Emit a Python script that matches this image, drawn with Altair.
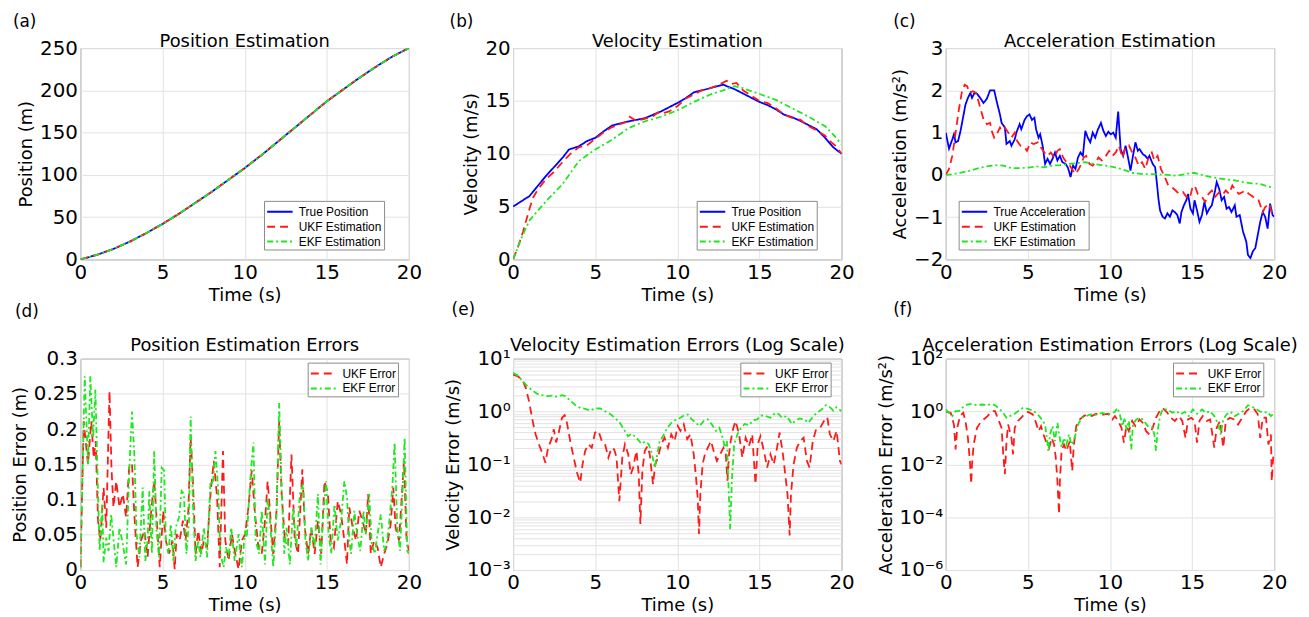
import altair as alt
import pandas as pd

FONT = "DejaVu Sans"
LEGEND_FONT = "Liberation Sans"
BLUE = "#0000ff"
RED = "#ff1a1a"
GREEN = "#1ee81e"

X_TICKS = [0, 5, 10, 15, 20]

# ---------------- (a) Position ----------------
POS_T = [0, 1, 2, 3, 4, 5, 6, 7, 8, 9, 10, 11, 12, 13, 14, 15, 16, 17, 18, 19, 20]
POS_TRUE = [0, 5.4, 12.3, 21, 31, 42, 54, 67, 80, 94, 108, 123, 139, 155, 171, 187, 201, 215, 228, 240, 250]
POS_UKF = [0, 5.4, 12.3, 21, 31, 42, 54, 67, 80, 94, 108, 123, 139, 155, 171, 187, 201, 215, 228, 240, 250]
POS_EKF = [0, 5.3, 12.2, 21, 31, 42, 54, 67, 80, 94, 108, 123, 139, 155, 171, 187, 201, 215, 228, 240, 250]

# ---------------- (b) Velocity ----------------
VEL_TRUE_T = [0, 1, 2, 3, 3.4, 4, 4.5, 5, 5.5, 6, 6.6, 7, 8, 9, 10, 10.5, 11, 11.5, 12, 12.8, 13,
              13.5, 14, 14.5, 15, 15.5, 16, 16.5, 17, 17.5, 18, 18.5, 19, 19.5, 20]
VEL_TRUE = [5, 6.0, 7.9, 9.6, 10.4, 10.7, 11.2, 11.5, 12.1, 12.65, 12.9, 13.05, 13.35, 14.0, 14.8, 15.25,
            15.8, 16.0, 16.2, 16.55, 16.4, 16.1, 15.7, 15.3, 14.9, 14.6, 14.2, 13.7, 13.45, 13.1, 12.7,
            12.3, 11.5, 10.6, 10.0]
VEL_UKF_T = [0, 0.3, 0.6, 1.0, 1.2, 1.5, 2.0, 2.5, 3.0, 3.5, 4.0, 4.5, 5.0, 5.5, 6.0, 6.5, 6.9, 7.1, 7.5,
             8.0, 8.5, 8.8, 9.0, 9.5, 10.0, 10.5, 11.0, 11.5, 12.0, 12.5, 13.0, 13.3, 13.6, 14.0, 14.5,
             15.0, 15.5, 16.0, 16.5, 17.0, 17.5, 18.0, 18.5, 19.0, 19.3, 19.6, 20.0]
VEL_UKF = [0, 1.2, 2.6, 4.8, 5.8, 6.6, 7.6, 8.3, 9.2, 10.0, 10.6, 10.8, 11.4, 12.0, 12.5, 12.8, 13.0, 13.5,
           13.1, 13.3, 13.5, 13.9, 13.8, 14.0, 14.5, 15.2, 15.6, 16.0, 16.2, 16.5, 16.9, 16.6, 16.7, 16.0,
           15.5, 15.0, 14.8, 14.3, 13.7, 13.4, 13.2, 12.6, 12.2, 11.7, 11.2, 10.8, 10.0]
VEL_EKF_T = [0, 0.5, 1, 2, 3, 4, 5, 6, 7, 8, 9, 10, 11, 12, 13, 13.5, 14, 15, 16, 17, 18, 19, 19.5, 20]
VEL_EKF = [0, 2.0, 3.7, 5.5, 7.1, 9.3, 10.4, 11.3, 12.4, 13.05, 13.5, 14.1, 14.9, 15.6, 16.1, 16.4, 16.2,
           15.65, 15.1, 14.3, 13.5, 12.6, 11.8, 10.9]

# ---------------- (c) Acceleration ----------------
ACC_TRUE_T = [0, 0.2, 0.4, 0.5, 0.6, 0.75, 0.9, 1.07, 1.2, 1.35, 1.5, 1.6, 1.75, 1.9, 2.1, 2.3, 2.5, 2.7,
              2.95, 3.1, 3.3, 3.4, 3.6, 3.7, 3.9, 4.0, 4.2, 4.3, 4.5, 4.6, 4.8, 4.95, 5.1, 5.25, 5.4, 5.5,
              5.65, 5.75, 5.9, 6.05, 6.2, 6.35, 6.5, 6.65, 6.8, 6.95, 7.1, 7.3, 7.45, 7.6, 7.75, 7.9, 8.05,
              8.2, 8.35, 8.5, 8.65, 8.8, 8.95, 9.1, 9.25, 9.45, 9.6, 9.75, 9.9, 10.05, 10.2, 10.35, 10.5,
              10.55, 10.65, 10.8, 10.95, 11.1, 11.25, 11.4, 11.55, 11.7, 11.8, 12.0, 12.15, 12.3, 12.4,
              12.6, 12.75, 12.85, 12.95, 13.05, 13.2, 13.35, 13.5, 13.65, 13.8, 13.95, 14.1, 14.25, 14.35,
              14.5, 14.65, 14.75, 14.9, 15.05, 15.15, 15.3, 15.45, 15.6, 15.75, 15.9, 16.05, 16.2, 16.4,
              16.5, 16.65, 16.8, 16.95, 17.1, 17.25, 17.4, 17.6, 17.7, 17.9, 18.1, 18.3, 18.4, 18.55, 18.7,
              18.85, 19.0, 19.15, 19.3, 19.45, 19.6, 19.75, 19.9, 20.0]
ACC_TRUE = [1.0, 0.62, 0.84, 0.96, 0.77, 0.8, 1.04, 1.39, 1.66, 1.82, 1.94, 1.82, 1.94, 1.92, 1.82, 1.7,
            1.8, 2.0, 2.0, 1.74, 1.43, 1.23, 1.12, 0.73, 0.8, 0.69, 0.84, 1.0, 1.2, 1.08, 1.3, 1.39, 1.43,
            1.3, 1.35, 1.08, 0.88, 0.96, 0.69, 0.26, 0.38, 0.26, 0.38, 0.53, 0.34, 0.45, 0.3, 0.26, 0.16,
            -0.05, 0.22, 0.14, 0.41, 0.53, 0.45, 1.04, 0.88, 0.77, 1.0, 0.88, 1.06, 1.23, 1.04, 0.92, 1.02,
            0.96, 1.0, 0.88, 1.5, 1.2, 0.61, 0.45, 0.69, 0.41, 0.1, 0.45, 0.77, 0.57, 0.61, 0.49, 0.45,
            0.38, 0.45, 0.26, 0.18, -0.17, -0.56, -0.84, -0.99, -1.03, -0.91, -0.99, -0.84, -0.88, -0.95,
            -1.15, -0.88, -0.72, -0.6, -0.45, -0.8, -0.91, -0.6, -0.84, -1.11, -0.95, -0.64, -0.91, -0.8,
            -0.72, -0.37, -0.17, -0.33, -0.6, -0.52, -0.8, -0.76, -0.88, -0.72, -0.99, -0.95, -1.34, -1.58,
            -1.89, -1.97, -1.81, -1.73, -1.42, -1.11, -0.88, -0.99, -1.27, -0.68, -0.95, -0.99]
ACC_UKF_T = [0, 0.2, 0.4, 0.6, 0.8, 0.97, 1.15, 1.3, 1.45, 1.65, 1.85, 2.1, 2.3, 2.5, 2.7, 2.8, 2.95, 3.1,
             3.3, 3.4, 3.6, 3.8, 4.0, 4.2, 4.35, 4.55, 4.8, 4.95, 5.15, 5.35, 5.6, 5.8, 6.0, 6.2, 6.4, 6.6,
             6.8, 6.95, 7.15, 7.35, 7.55, 7.75, 7.9, 8.1, 8.25, 8.4, 8.55, 8.75, 8.95, 9.15, 9.3, 9.5, 9.75,
             9.95, 10.15, 10.35, 10.55, 10.75, 10.95, 11.15, 11.35, 11.55, 11.75, 11.95, 12.15, 12.35,
             12.55, 12.7, 12.9, 13.1, 13.3, 13.55, 13.75, 14.0, 14.2, 14.45, 14.65, 14.85, 15.0, 15.15,
             15.35, 15.6, 15.8, 16.0, 16.2, 16.4, 16.65, 16.85, 17.05, 17.25, 17.45, 17.65, 17.85, 18.05,
             18.25, 18.45, 18.65, 18.85, 19.05, 19.3, 19.45, 19.7, 19.85, 20.0]
ACC_UKF = [0, 0.14, 0.45, 1.0, 1.55, 1.94, 2.13, 2.1, 1.94, 1.98, 1.94, 1.59, 1.31, 1.2, 1.23, 1.04, 0.88,
           0.96, 1.12, 1.06, 1.12, 1.0, 0.88, 1.0, 0.8, 0.69, 0.65, 0.57, 0.77, 0.73, 0.77, 0.65, 0.53,
           0.45, 0.53, 0.41, 0.57, 0.61, 0.41, 0.3, 0.22, 0.1, 0.02, 0.14, 0.26, 0.41, 0.45, 0.26, 0.22,
           0.3, 0.41, 0.34, 0.45, 0.57, 0.45, 0.53, 0.69, 0.41, 0.65, 0.7, 0.53, 0.41, 0.22, 0.3, 0.14,
           0.41, 0.53, 0.34, 0.45, 0.14, -0.02, -0.25, -0.29, -0.37, -0.45, -0.41, -0.52, -0.56, -0.33,
           -0.25, -0.45, -0.52, -0.64, -0.45, -0.37, -0.52, -0.41, -0.48, -0.37, -0.45, -0.25, -0.37,
           -0.45, -0.41, -0.37, -0.45, -0.5, -0.56, -0.6, -0.88, -0.76, -0.68, -0.91, -0.84]
ACC_EKF_T = [0, 0.5, 1.0, 1.5, 2.0, 2.5, 3.0, 3.5, 4.0, 4.5, 5.0, 5.5, 6.0, 6.5, 7.0, 7.5, 8.0, 8.5, 9.0,
             9.5, 10.0, 10.5, 11.0, 11.3, 11.6, 12.0, 12.5, 13.0, 13.5, 14.1, 14.6, 15.1, 15.6, 16.1,
             16.6, 17.1, 17.6, 18.1, 18.6, 19.1, 19.6, 20.0]
ACC_EKF = [0.0, 0.02, 0.06, 0.1, 0.16, 0.2, 0.23, 0.22, 0.16, 0.16, 0.17, 0.2, 0.18, 0.22, 0.23, 0.26,
           0.28, 0.3, 0.26, 0.23, 0.2, 0.16, 0.1, 0.05, 0.04, 0.02, 0.02, 0.01, 0.0, -0.02, 0.02, 0.05,
           0.0, -0.05, -0.08, -0.11, -0.13, -0.17, -0.2, -0.21, -0.27, -0.31]

# ---------------- (d) Position errors ----------------
PERR_EKF_T = [0, 0.26, 0.46, 0.6, 0.77, 0.91, 1.07, 1.17, 1.33, 1.41, 1.57, 1.71, 1.87, 2.18, 2.38, 2.58,
              2.78, 2.98, 3.14, 3.28, 3.42, 3.59, 3.79, 3.95, 4.09, 4.19, 4.35, 4.49, 4.63, 4.79, 4.95,
              5.1, 5.2, 5.36, 5.5, 5.66, 5.8, 6.0, 6.16, 6.3, 6.45, 6.61, 6.71, 6.85, 7.01, 7.17, 7.31,
              7.51, 7.71, 7.92, 8.06, 8.22, 8.38, 8.52, 8.72, 8.86, 9.02, 9.18, 9.39, 9.63, 9.83, 10.03,
              10.13, 10.33, 10.53, 10.67, 10.88, 11.04, 11.24, 11.4, 11.54, 11.74, 11.94, 12.1, 12.25,
              12.41, 12.55, 12.75, 12.95, 13.15, 13.36, 13.56, 13.7, 13.86, 14.06, 14.26, 14.46, 14.62,
              14.76, 14.96, 15.11, 15.27, 15.47, 15.67, 15.87, 16.07, 16.23, 16.37, 16.48, 16.68, 16.84,
              17.04, 17.24, 17.38, 17.58, 17.74, 17.93, 18.09, 18.29, 18.49, 18.65, 18.79, 18.99, 19.13,
              19.29, 19.46, 19.6, 19.74, 19.9, 20.0]
PERR_EKF = [0.004, 0.275, 0.15, 0.275, 0.188, 0.256, 0.108, 0.027, 0.093, 0.011, 0.046, 0.027, 0.079,
            0.004, 0.06, 0.037, 0.008, 0.145, 0.225, 0.164, 0.051, 0.018, 0.117, 0.013, 0.042, 0.112,
            0.023, 0.169, 0.056, 0.018, 0.145, 0.141, 0.042, 0.023, 0.065, 0.013, 0.06, 0.075, 0.112,
            0.108, 0.023, 0.07, 0.218, 0.093, 0.013, 0.042, 0.018, 0.06, 0.018, 0.126, 0.122, 0.169,
            0.117, 0.023, 0.004, 0.032, 0.018, 0.06, 0.013, 0.051, 0.004, 0.056, 0.046, 0.126, 0.181,
            0.042, 0.023, 0.084, 0.008, 0.103, 0.07, 0.004, 0.079, 0.237, 0.117, 0.023, 0.06, 0.008,
            0.089, 0.032, 0.108, 0.122, 0.042, 0.013, 0.06, 0.032, 0.108, 0.008, 0.07, 0.126, 0.051,
            0.023, 0.093, 0.042, 0.07, 0.126, 0.103, 0.042, 0.023, 0.084, 0.051, 0.027, 0.084, 0.051,
            0.108, 0.037, 0.023, 0.051, 0.079, 0.027, 0.037, 0.065, 0.117, 0.181, 0.06, 0.027, 0.103,
            0.188, 0.027, 0.023]
PERR_UKF_T = [0, 0.2, 0.46, 0.66, 0.81, 0.93, 1.07, 1.21, 1.41, 1.57, 1.77, 1.89, 2.01, 2.18, 2.38, 2.58,
              2.78, 2.98, 3.14, 3.28, 3.48, 3.69, 3.89, 4.09, 4.29, 4.49, 4.65, 4.83, 5.04, 5.2, 5.4, 5.6,
              5.74, 5.86, 6.04, 6.24, 6.4, 6.57, 6.71, 6.85, 7.01, 7.17, 7.37, 7.51, 7.71, 7.92, 8.12,
              8.32, 8.48, 8.68, 8.82, 9.02, 9.22, 9.43, 9.63, 9.83, 10.03, 10.23, 10.43, 10.63, 10.84,
              11.04, 11.24, 11.4, 11.54, 11.74, 11.94, 12.1, 12.25, 12.45, 12.65, 12.85, 13.05, 13.25,
              13.51, 13.66, 13.86, 14.06, 14.26, 14.46, 14.66, 14.86, 15.07, 15.23, 15.43, 15.67, 15.87,
              16.07, 16.23, 16.37, 16.58, 16.78, 16.98, 17.18, 17.38, 17.52, 17.68, 17.89, 18.09, 18.29,
              18.49, 18.69, 18.89, 19.05, 19.19, 19.4, 19.6, 19.7, 19.86, 20.0]
PERR_UKF = [0.004, 0.211, 0.15, 0.211, 0.159, 0.183, 0.07, 0.042, 0.117, 0.06, 0.254, 0.145, 0.089, 0.126,
            0.089, 0.108, 0.075, 0.15, 0.15, 0.079, 0.004, 0.042, 0.056, 0.018, 0.079, 0.126, 0.07, 0.004,
            0.084, 0.042, 0.023, 0.042, 0.001, 0.051, 0.042, 0.07, 0.042, 0.084, 0.188, 0.126, 0.023,
            0.056, 0.023, 0.042, 0.032, 0.108, 0.155, 0.103, 0.004, 0.169, 0.042, 0.013, 0.051, 0.023,
            0.001, 0.042, 0.051, 0.089, 0.141, 0.079, 0.032, 0.023, 0.07, 0.126, 0.084, 0.023, 0.084,
            0.211, 0.108, 0.042, 0.037, 0.164, 0.042, 0.023, 0.143, 0.06, 0.023, 0.06, 0.023, 0.07, 0.023,
            0.126, 0.108, 0.042, 0.032, 0.098, 0.079, 0.042, 0.008, 0.089, 0.06, 0.042, 0.084, 0.07, 0.051,
            0.108, 0.023, 0.042, 0.032, 0.004, 0.023, 0.037, 0.065, 0.117, 0.06, 0.042, 0.117, 0.155, 0.042,
            0.027]

# ---------------- (e) Velocity errors (log) ----------------
VERR_EKF_T = [0, 0.26, 0.56, 0.87, 1.17, 1.47, 1.77, 2.07, 2.38, 2.68, 2.98, 3.18, 3.48, 3.79, 4.09, 4.39,
              4.69, 4.99, 5.3, 5.6, 5.9, 6.2, 6.5, 6.8, 7.0, 7.21, 7.51, 7.81, 8.05, 8.26, 8.46, 8.62,
              8.78, 8.92, 9.12, 9.38, 9.63, 9.93, 10.19, 10.44, 10.64, 10.88, 11.14, 11.35, 11.61, 11.85,
              12.1, 12.35, 12.56, 12.76, 12.9, 13.02, 13.12, 13.22, 13.32, 13.46, 13.66, 13.86, 14.1,
              14.36, 14.62, 14.86, 15.11, 15.37, 15.67, 15.97, 16.17, 16.37, 16.67, 16.97, 17.18, 17.44,
              17.72, 17.98, 18.24, 18.49, 18.79, 19.05, 19.29, 19.5, 19.7, 20.0]
VERR_EKF = [5.4, 4.85, 3.85, 3.0, 2.5, 2.15, 2.03, 1.95, 2.0, 1.89, 2.03, 1.95, 1.61, 1.32, 1.17, 1.12,
            1.04, 1.14, 1.14, 1.01, 0.9, 0.76, 0.61, 0.43, 0.34, 0.38, 0.32, 0.245, 0.27, 0.24, 0.155,
            0.087, 0.155, 0.27, 0.34, 0.48, 0.61, 0.71, 0.76, 0.85, 0.88, 0.71, 0.61, 0.53, 0.66, 0.71,
            0.57, 0.43, 0.49, 0.32, 0.206, 0.275, 0.036, 0.0059, 0.049, 0.24, 0.37, 0.48, 0.58, 0.55,
            0.68, 0.71, 0.84, 0.82, 0.76, 0.94, 0.9, 0.76, 0.82, 0.58, 0.66, 0.74, 0.71, 0.61, 0.78,
            0.94, 1.09, 1.32, 1.21, 1.04, 1.21, 1.01]
VERR_UKF_T = [0, 0.3, 0.56, 0.77, 0.97, 1.17, 1.37, 1.57, 1.77, 1.97, 2.13, 2.34, 2.48, 2.62, 2.78, 2.98,
              3.14, 3.28, 3.48, 3.69, 3.89, 4.09, 4.23, 4.39, 4.59, 4.79, 4.99, 5.2, 5.4, 5.6, 5.8, 6.0,
              6.16, 6.3, 6.47, 6.65, 6.81, 7.01, 7.17, 7.31, 7.51, 7.65, 7.75, 7.87, 8.02, 8.18, 8.32,
              8.52, 8.66, 8.82, 9.02, 9.22, 9.43, 9.63, 9.83, 10.03, 10.19, 10.39, 10.6, 10.8, 11.0,
              11.14, 11.24, 11.32, 11.4, 11.54, 11.68, 11.85, 12.05, 12.21, 12.41, 12.61, 12.81, 12.95,
              13.05, 13.15, 13.25, 13.41, 13.55, 13.76, 13.96, 14.16, 14.36, 14.56, 14.76, 14.9, 15.06,
              15.27, 15.47, 15.67, 15.87, 16.07, 16.23, 16.43, 16.57, 16.71, 16.84, 16.92, 17.08, 17.28,
              17.48, 17.69, 17.89, 18.05, 18.25, 18.45, 18.69, 18.93, 19.13, 19.29, 19.5, 19.7, 19.9, 20.0]
VERR_UKF = [5.0, 4.6, 4.0, 2.8, 1.57, 0.71, 0.37, 0.24, 0.166, 0.107, 0.206, 0.3, 0.46, 0.26, 0.4, 0.76,
            0.85, 0.61, 0.275, 0.134, 0.07, 0.045, 0.1, 0.18, 0.24, 0.206, 0.4, 0.43, 0.275, 0.24, 0.134,
            0.206, 0.19, 0.134, 0.02, 0.134, 0.24, 0.155, 0.065, 0.087, 0.18, 0.065, 0.0074, 0.075, 0.18,
            0.22, 0.155, 0.042, 0.1, 0.134, 0.24, 0.32, 0.206, 0.37, 0.275, 0.53, 0.43, 0.57, 0.3, 0.37,
            0.155, 0.056, 0.023, 0.0048, 0.027, 0.1, 0.155, 0.206, 0.275, 0.18, 0.116, 0.155, 0.206,
            0.155, 0.049, 0.155, 0.275, 0.49, 0.66, 0.37, 0.134, 0.32, 0.22, 0.37, 0.042, 0.24, 0.34,
            0.18, 0.087, 0.155, 0.1, 0.206, 0.4, 0.155, 0.065, 0.027, 0.0045, 0.027, 0.1, 0.206, 0.275,
            0.32, 0.116, 0.087, 0.275, 0.46, 0.49, 0.66, 0.78, 0.37, 0.275, 0.43, 0.116, 0.1]

# ---------------- (f) Acceleration errors (log) ----------------
AERR_EKF_T = [0, 0.2, 0.4, 0.6, 0.8, 1.0, 1.3, 1.6, 1.9, 2.2, 2.5, 2.8, 3.0, 3.2, 3.5, 3.7, 3.9, 4.2, 4.4,
              4.7, 5.0, 5.3, 5.6, 5.85, 6.05, 6.15, 6.25, 6.35, 6.5, 6.65, 6.8, 6.9, 7.05, 7.2, 7.35, 7.5,
              7.65, 7.8, 7.95, 8.1, 8.3, 8.55, 8.8, 9.05, 9.3, 9.55, 9.8, 10.05, 10.3, 10.45, 10.6, 10.75,
              10.9, 11.0, 11.15, 11.3, 11.4, 11.6, 11.8, 12.0, 12.3, 12.55, 12.7, 12.8, 12.9, 13.05, 13.2,
              13.5, 13.8, 14.05, 14.3, 14.55, 14.8, 15.05, 15.3, 15.6, 15.85, 16.1, 16.35, 16.6, 16.75,
              16.9, 17.1, 17.35, 17.6, 17.85, 18.1, 18.4, 18.6, 18.85, 19.1, 19.35, 19.6, 19.8, 20.0]
AERR_EKF = [1.19, 0.89, 0.67, 1.03, 1.03, 1.37, 1.84, 1.95, 1.73, 1.84, 1.73, 1.95, 1.73, 1.37, 0.89,
            0.58, 0.67, 0.82, 1.03, 1.37, 1.26, 1.09, 0.78, 0.5, 0.32, 0.1, 0.032, 0.135, 0.28, 0.076,
            0.37, 0.135, 0.043, 0.1, 0.056, 0.135, 0.056, 0.076, 0.18, 0.37, 0.58, 0.67, 0.78, 0.72,
            0.82, 0.89, 0.78, 0.82, 0.97, 1.37, 0.78, 0.28, 0.58, 0.21, 0.44, 0.037, 0.32, 0.5, 0.58,
            0.5, 0.28, 0.26, 0.135, 0.032, 0.18, 0.67, 1.19, 1.19, 0.89, 1.03, 0.78, 0.97, 0.67, 1.19,
            0.82, 1.19, 0.89, 1.03, 0.67, 0.32, 0.135, 0.5, 0.78, 0.97, 0.67, 0.82, 1.03, 1.73, 1.58,
            1.3, 1.03, 0.89, 0.97, 0.67, 0.89]
AERR_UKF_T = [0, 0.3, 0.5, 0.6, 0.7, 0.87, 1.07, 1.2, 1.35, 1.47, 1.55, 1.6, 1.7, 1.9, 2.1, 2.3, 2.55, 2.8,
              3.0, 3.2, 3.4, 3.5, 3.6, 3.7, 3.8, 4.0, 4.1, 4.2, 4.4, 4.6, 4.85, 5.0, 5.3, 5.5, 5.65, 5.8,
              5.95, 6.1, 6.3, 6.45, 6.6, 6.7, 6.8, 6.9, 6.95, 7.05, 7.2, 7.35, 7.55, 7.7, 7.8, 7.95, 8.15,
              8.4, 8.65, 8.9, 9.15, 9.4, 9.65, 9.9, 10.15, 10.3, 10.5, 10.7, 10.85, 11.0, 11.15, 11.35,
              11.55, 11.8, 12.0, 12.2, 12.4, 12.6, 12.8, 13.0, 13.2, 13.5, 13.7, 13.95, 14.2, 14.4, 14.6,
              14.75, 14.95, 15.15, 15.3, 15.45, 15.65, 15.9, 16.1, 16.35, 16.5, 16.7, 16.9, 17.05, 17.3,
              17.55, 17.8, 18.05, 18.3, 18.55, 18.8, 19.0, 19.15, 19.3, 19.5, 19.65, 19.8, 19.85, 19.95]
AERR_UKF = [1.0, 0.89, 0.32, 0.037, 0.24, 0.67, 0.89, 0.44, 0.1, 0.013, 0.0018, 0.01, 0.056, 0.24, 0.37,
            0.5, 0.67, 1.03, 1.03, 0.5, 0.24, 0.024, 0.0042, 0.076, 0.32, 0.1, 0.024, 0.24, 0.44, 0.58,
            0.89, 0.97, 0.78, 0.37, 0.18, 0.28, 0.135, 0.076, 0.043, 0.1, 0.056, 0.018, 0.0023, 0.00013,
            0.0023, 0.032, 0.056, 0.032, 0.076, 0.0056, 0.056, 0.28, 0.5, 0.67, 0.78, 0.67, 0.82, 0.72,
            0.78, 0.82, 0.5, 0.67, 0.44, 0.24, 0.066, 0.28, 0.18, 0.44, 0.28, 0.5, 0.37, 0.18, 0.135,
            0.24, 0.58, 0.97, 1.37, 0.89, 0.58, 0.44, 0.67, 0.44, 0.1, 0.5, 0.58, 0.44, 0.066, 0.44, 0.67,
            0.44, 0.5, 0.043, 0.24, 0.44, 0.043, 0.44, 0.58, 0.5, 0.32, 0.58, 1.03, 1.37, 1.19, 0.78, 0.1,
            0.58, 0.58, 0.056, 0.135, 0.0023, 0.024]

SOLID = [1, 0]
DASH = [8, 5]
DASHDOT = [6, 3, 2, 3]

W, H = 331, 213


def frame(name, ts, vs):
    return pd.DataFrame({"t": ts, "v": vs, "s": [name] * len(ts)})


SUP = {2: "²", 1: "¹", 0: "⁰", -1: "⁻¹", -2: "⁻²", -3: "⁻³", -4: "⁻⁴", -5: "⁻⁵", -6: "⁻⁶"}


def log_label_expr():
    e = "round(log(datum.value)/LN10)"
    chain = "".join(f"{e}=={k}?'{v}':" for k, v in SUP.items()) + "''"
    return f"abs(log(datum.value)/LN10 - {e}) > 0.001 ? '' : '10' + ({chain})"


def text_layer(txt, x, y, size, align, baseline):
    return alt.Chart(pd.DataFrame({"lab": [txt]})).mark_text(
        font=FONT, fontSize=size, align=align, baseline=baseline, color="black"
    ).encode(x=alt.value(x), y=alt.value(y), text="lab:N")


def panel(frames, names, colors, dashes, title, title_y, ytitle, yscale, yaxis_kw,
          legend_xy, label, label_xy):
    legend = alt.Legend(
        title=None, orient="none", legendX=legend_xy[0], legendY=legend_xy[1],
        symbolType="M-1.6,0L1.6,0", symbolSize=256, symbolStrokeWidth=2, symbolOffset=5,
        labelFont=LEGEND_FONT, labelFontSize=12, labelLimit=300,
        strokeColor="#8a8a8a", fillColor="white", padding=2, rowPadding=0, labelOffset=10,
    )
    x = alt.X("t:Q", scale=alt.Scale(domain=[0, 20], nice=False, zero=False),
              axis=alt.Axis(title="Time (s)", values=X_TICKS, labelFlush=False, titlePadding=4))
    y = alt.Y("v:Q", scale=yscale, axis=alt.Axis(title=ytitle, labelFlush=False, labelOverlap=False,
                                                 titlePadding=4, **yaxis_kw))
    color = alt.Color("s:N", scale=alt.Scale(domain=names, range=colors), legend=legend)
    dash = alt.StrokeDash("s:N", scale=alt.Scale(domain=names, range=dashes), legend=legend)
    layers = [
        alt.Chart(df).mark_line(strokeWidth=1.8, clip=True).encode(x=x, y=y, color=color, strokeDash=dash)
        for df in frames
    ]
    ttl = text_layer(title, W / 2, title_y, 18, "center", "alphabetic")
    lab = text_layer(label, label_xy[0], label_xy[1], 17, "left", "top")
    return alt.layer(*layers, ttl, lab).properties(width=W, height=H)


plain_expr = "'' + datum.value"

pa = panel(
    [frame("True Position", POS_T, POS_TRUE), frame("UKF Estimation", POS_T, POS_UKF),
     frame("EKF Estimation", POS_T, POS_EKF)],
    ["True Position", "UKF Estimation", "EKF Estimation"], [BLUE, RED, GREEN], [SOLID, DASH, DASHDOT],
    "Position Estimation", -1, "Position (m)",
    alt.Scale(domain=[0, 250], nice=False), {"values": [0, 50, 100, 150, 200, 250]},
    (185, 154), "(a)", (-68, -34))

pb = panel(
    [frame("True Position", VEL_TRUE_T, VEL_TRUE), frame("UKF Estimation", VEL_UKF_T, VEL_UKF),
     frame("EKF Estimation", VEL_EKF_T, VEL_EKF)],
    ["True Position", "UKF Estimation", "EKF Estimation"], [BLUE, RED, GREEN], [SOLID, DASH, DASHDOT],
    "Velocity Estimation", -1, "Velocity (m/s)",
    alt.Scale(domain=[0, 20], nice=False), {"values": [0, 5, 10, 15, 20]},
    (185, 154), "(b)", (-64, -34))

pc = panel(
    [frame("True Acceleration", ACC_TRUE_T, ACC_TRUE), frame("UKF Estimation", ACC_UKF_T, ACC_UKF),
     frame("EKF Estimation", ACC_EKF_T, ACC_EKF)],
    ["True Acceleration", "UKF Estimation", "EKF Estimation"], [BLUE, RED, GREEN], [SOLID, DASH, DASHDOT],
    "Acceleration Estimation", -1, "Acceleration (m/s²)",
    alt.Scale(domain=[-2, 3], nice=False, zero=False), {"values": [-2, -1, 0, 1, 2, 3]},
    (13, 154), "(c)", (-53, -34))

pd_ = panel(
    [frame("UKF Error", PERR_UKF_T, PERR_UKF), frame("EKF Error", PERR_EKF_T, PERR_EKF)],
    ["UKF Error", "EKF Error"], [RED, GREEN], [DASH, DASHDOT],
    "Position Estimation Errors", -8, "Position Error (m)",
    alt.Scale(domain=[0, 0.3], nice=False),
    {"values": [0, 0.05, 0.1, 0.15, 0.2, 0.25, 0.3], "labelExpr": plain_expr},
    (229, 4), "(d)", (-66, -55))

minor_vals = [m * 10.0 ** k for k in range(-3, 1) for m in range(1, 10)] + [10.0]
pe = panel(
    [frame("UKF Error", VERR_UKF_T, VERR_UKF), frame("EKF Error", VERR_EKF_T, VERR_EKF)],
    ["UKF Error", "EKF Error"], [RED, GREEN], [DASH, DASHDOT],
    "Velocity Estimation Errors (Log Scale)", -8, "Velocity Error (m/s)",
    alt.Scale(type="log", domain=[0.001, 10], nice=False),
    {"values": minor_vals, "labelExpr": log_label_expr()},
    (229, 4), "(e)", (-62, -57))

pf = panel(
    [frame("UKF Error", AERR_UKF_T, AERR_UKF), frame("EKF Error", AERR_EKF_T, AERR_EKF)],
    ["UKF Error", "EKF Error"], [RED, GREEN], [DASH, DASHDOT],
    "Acceleration Estimation Errors (Log Scale)", -8, "Acceleration Error (m/s²)",
    alt.Scale(type="log", domain=[1e-6, 100], nice=False),
    {"values": [1e-6, 1e-4, 1e-2, 1, 100], "labelExpr": log_label_expr()},
    (229, 4), "(f)", (-53, -57))

indep = dict(color="independent", strokeDash="independent")

chart = (
    alt.concat(pa, pb, pc, pd_, pe, pf, columns=3, spacing={"row": 100, "column": 105}, bounds="flush")
    .resolve_scale(**indep).resolve_legend(**indep)
    .properties(padding={"left": 2, "top": 2, "right": 2, "bottom": 2})
    .configure(background="white")
    .configure_view(stroke="#8a8a8a", strokeWidth=1)
    .configure_axis(labelFont=FONT, labelFontSize=20, titleFont=FONT, titleFontSize=18,
                    titleFontWeight="normal", labelColor="black", titleColor="black",
                    gridColor="#e2e2e2", gridWidth=1, domain=False, ticks=False, labelPadding=3)
)

chart.save("out.html", embed_options={"renderer": "svg", "actions": False})
